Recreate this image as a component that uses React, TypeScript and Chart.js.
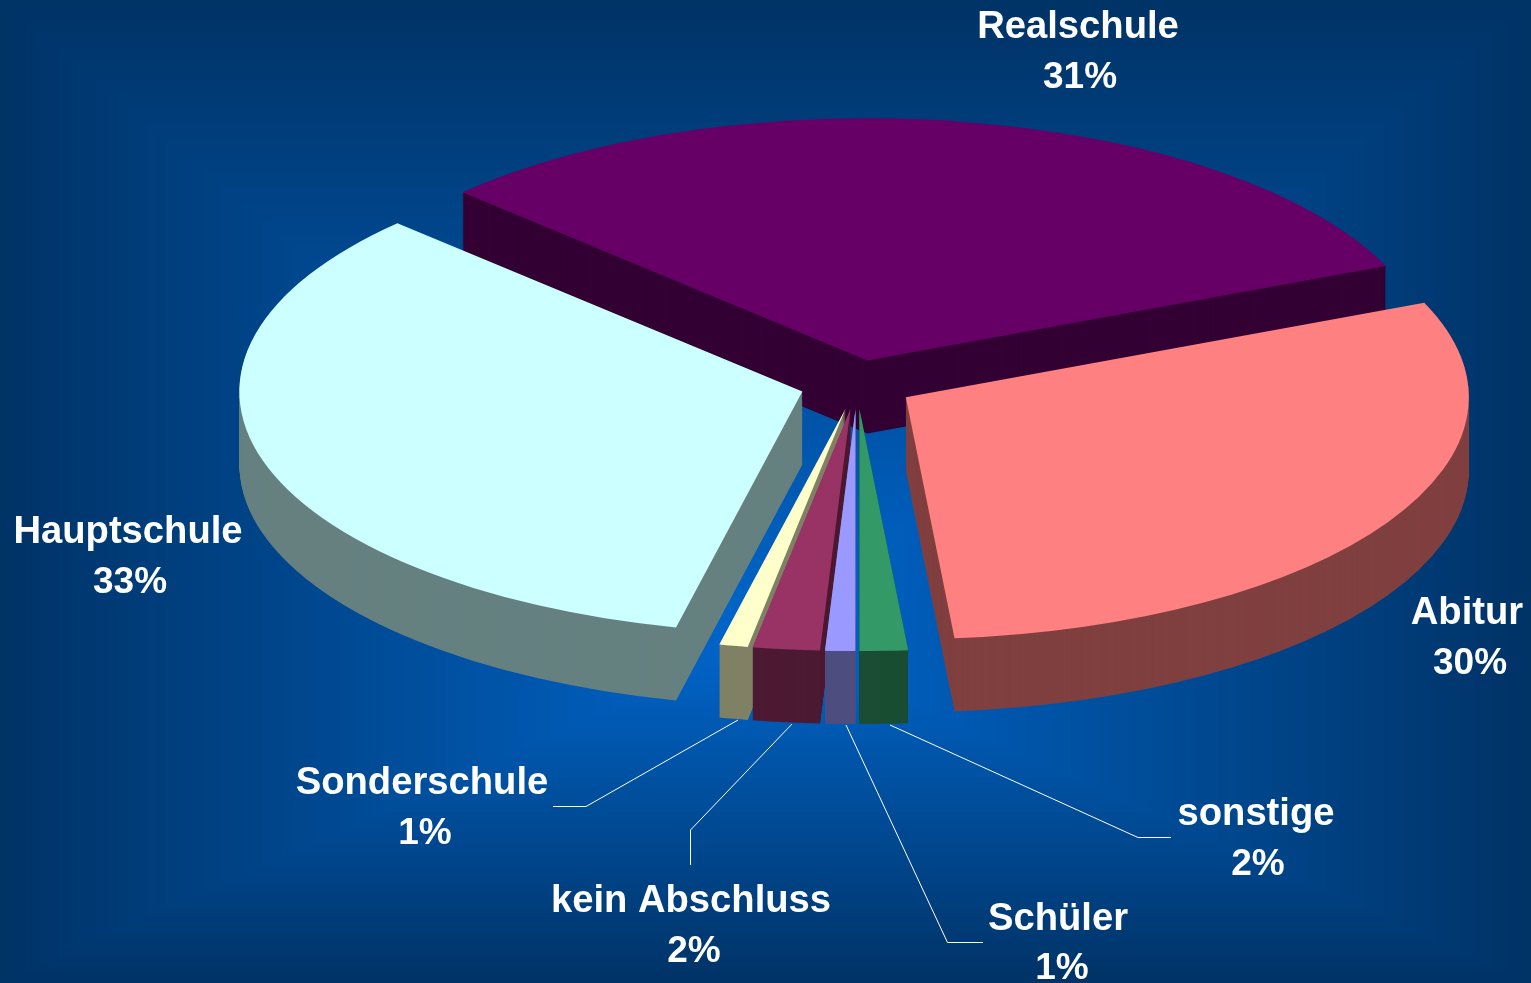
import React, { useEffect, useRef } from "react";
import { Chart, registerables } from "chart.js";

Chart.register(...registerables);

const categories = ["Realschule", "Abitur", "sonstige", "Schüler", "kein Abschluss", "Sonderschule", "Hauptschule"];
const shares = [31.4, 30, 1.38, 0.86, 1.92, 0.82, 33.62];
const percentLabels = ["31%", "30%", "2%", "1%", "2%", "1%", "33%"];
const topColors = ["#660066", "#FF8080", "#339966", "#9999FF", "#993366", "#FFFFCC", "#CCFFFF"];
const sideColors = ["#330033", "#804040", "#1A4D33", "#4D4D80", "#4D1A33", "#808066", "#668080"];
const paintOrder = [0, 6, 1, 5, 4, 3, 2];

const labelPlaces = [
  [1078, 27.5, 1080, 77.5],
  [1467, 613.5, 1470, 663.5],
  [1256, 814.5, 1258, 864.5],
  [1058, 919.5, 1062, 968.5],
  [691, 901.5, 694, 951.5],
  [422, 783.5, 425, 833.5],
  [128, 532.5, 130, 582.5],
];
const leaderLines: (number[][] | null)[] = [
  null,
  null,
  [[890, 725], [1138, 837.5], [1171, 837.5]],
  [[846, 725], [947.5, 942.5], [983, 942.5]],
  [[792, 724], [690.5, 830], [690.5, 865]],
  [[738, 720], [586, 806.5], [553, 806.5]],
  null,
];

const W = 1531;
const H = 983;
const CENTER_X = 857;
const CENTER_Y = 384.5;
const RADIUS = 563;
const TILT = 0.43;
const DEPTH = 73;
const EXPLODE = 57;

const backgroundPlugin = {
  id: "pathGradient",
  beforeDraw(chart: any) {
    const ctx = chart.ctx;
    const cx = 765;
    const cy = 640;
    const steps = 120;
    ctx.save();
    for (let i = 0; i <= steps; i++) {
      const t = 1 - i / steps;
      const g = Math.round(0x66 - t * 0x33);
      const b = Math.round(0xcc - t * 0x66);
      ctx.fillStyle = `rgb(0,${g},${b})`;
      const x0 = cx - cx * t;
      const x1 = cx + (W - cx) * t;
      const y0 = cy - cy * t;
      const y1 = cy + (H - cy) * t;
      ctx.fillRect(x0, y0, Math.max(x1 - x0, 1), Math.max(y1 - y0, 1));
    }
    ctx.restore();
  },
};

const tiltedPiePlugin = {
  id: "tiltedPie",
  beforeDatasetsDraw(chart: any) {
    const ctx = chart.ctx;
    const arcs = chart.getDatasetMeta(0).data;
    for (const index of paintOrder) {
      const arc = arcs[index];
      const mid = (arc.startAngle + arc.endAngle) / 2;
      const original = arc.options;
      const dx = Math.cos(mid) * EXPLODE;
      const dy = Math.sin(mid) * EXPLODE;
      const paint = (drop: number, color: string) => {
        ctx.save();
        ctx.translate(CENTER_X, CENTER_Y + drop);
        ctx.scale(1, TILT);
        ctx.translate(-arc.x + dx, -arc.y + dy);
        arc.options = Object.create(original, {
          backgroundColor: { value: color },
          borderWidth: { value: 0 },
        });
        arc.draw(ctx);
        ctx.restore();
      };
      for (let d = DEPTH; d > 0; d--) paint(d, sideColors[index]);
      paint(0, topColors[index]);
      arc.options = original;
    }
    return false;
  },
  afterDraw(chart: any) {
    const ctx = chart.ctx;
    ctx.save();
    ctx.strokeStyle = "#ffffff";
    ctx.lineWidth = 1;
    leaderLines.forEach((line) => {
      if (!line) return;
      ctx.beginPath();
      line.forEach(([x, y], i) => (i ? ctx.lineTo(x, y) : ctx.moveTo(x, y)));
      ctx.stroke();
    });
    ctx.fillStyle = "#ffffff";
    ctx.textAlign = "center";
    ctx.textBaseline = "middle";
    categories.forEach((name, i) => {
      const [x1, y1, x2, y2] = labelPlaces[i];
      ctx.font = "bold 38.2px 'Liberation Sans', Arial, sans-serif";
      ctx.fillText(name, x1, y1);
      ctx.font = "bold 37px 'Liberation Sans', Arial, sans-serif";
      ctx.fillText(percentLabels[i], x2, y2);
    });
    ctx.restore();
  },
};

export default function App() {
  const ref = useRef<HTMLCanvasElement>(null);
  useEffect(() => {
    document.body.style.margin = "0";
    document.body.style.overflow = "hidden";
    const chart = new Chart(ref.current as HTMLCanvasElement, {
      type: "pie",
      data: {
        labels: categories,
        datasets: [
          {
            data: shares,
            backgroundColor: topColors,
            borderWidth: 0,
            rotation: -46,
            radius: RADIUS,
          } as any,
        ],
      },
      options: {
        animation: false,
        responsive: false,
        events: [],
        plugins: { legend: { display: false }, tooltip: { enabled: false }, title: { display: false } },
      },
      plugins: [backgroundPlugin, tiltedPiePlugin],
    } as any);
    return () => chart.destroy();
  }, []);
  return <canvas ref={ref} width={W} height={H} style={{ display: "block", width: W, height: H }} />;
}
